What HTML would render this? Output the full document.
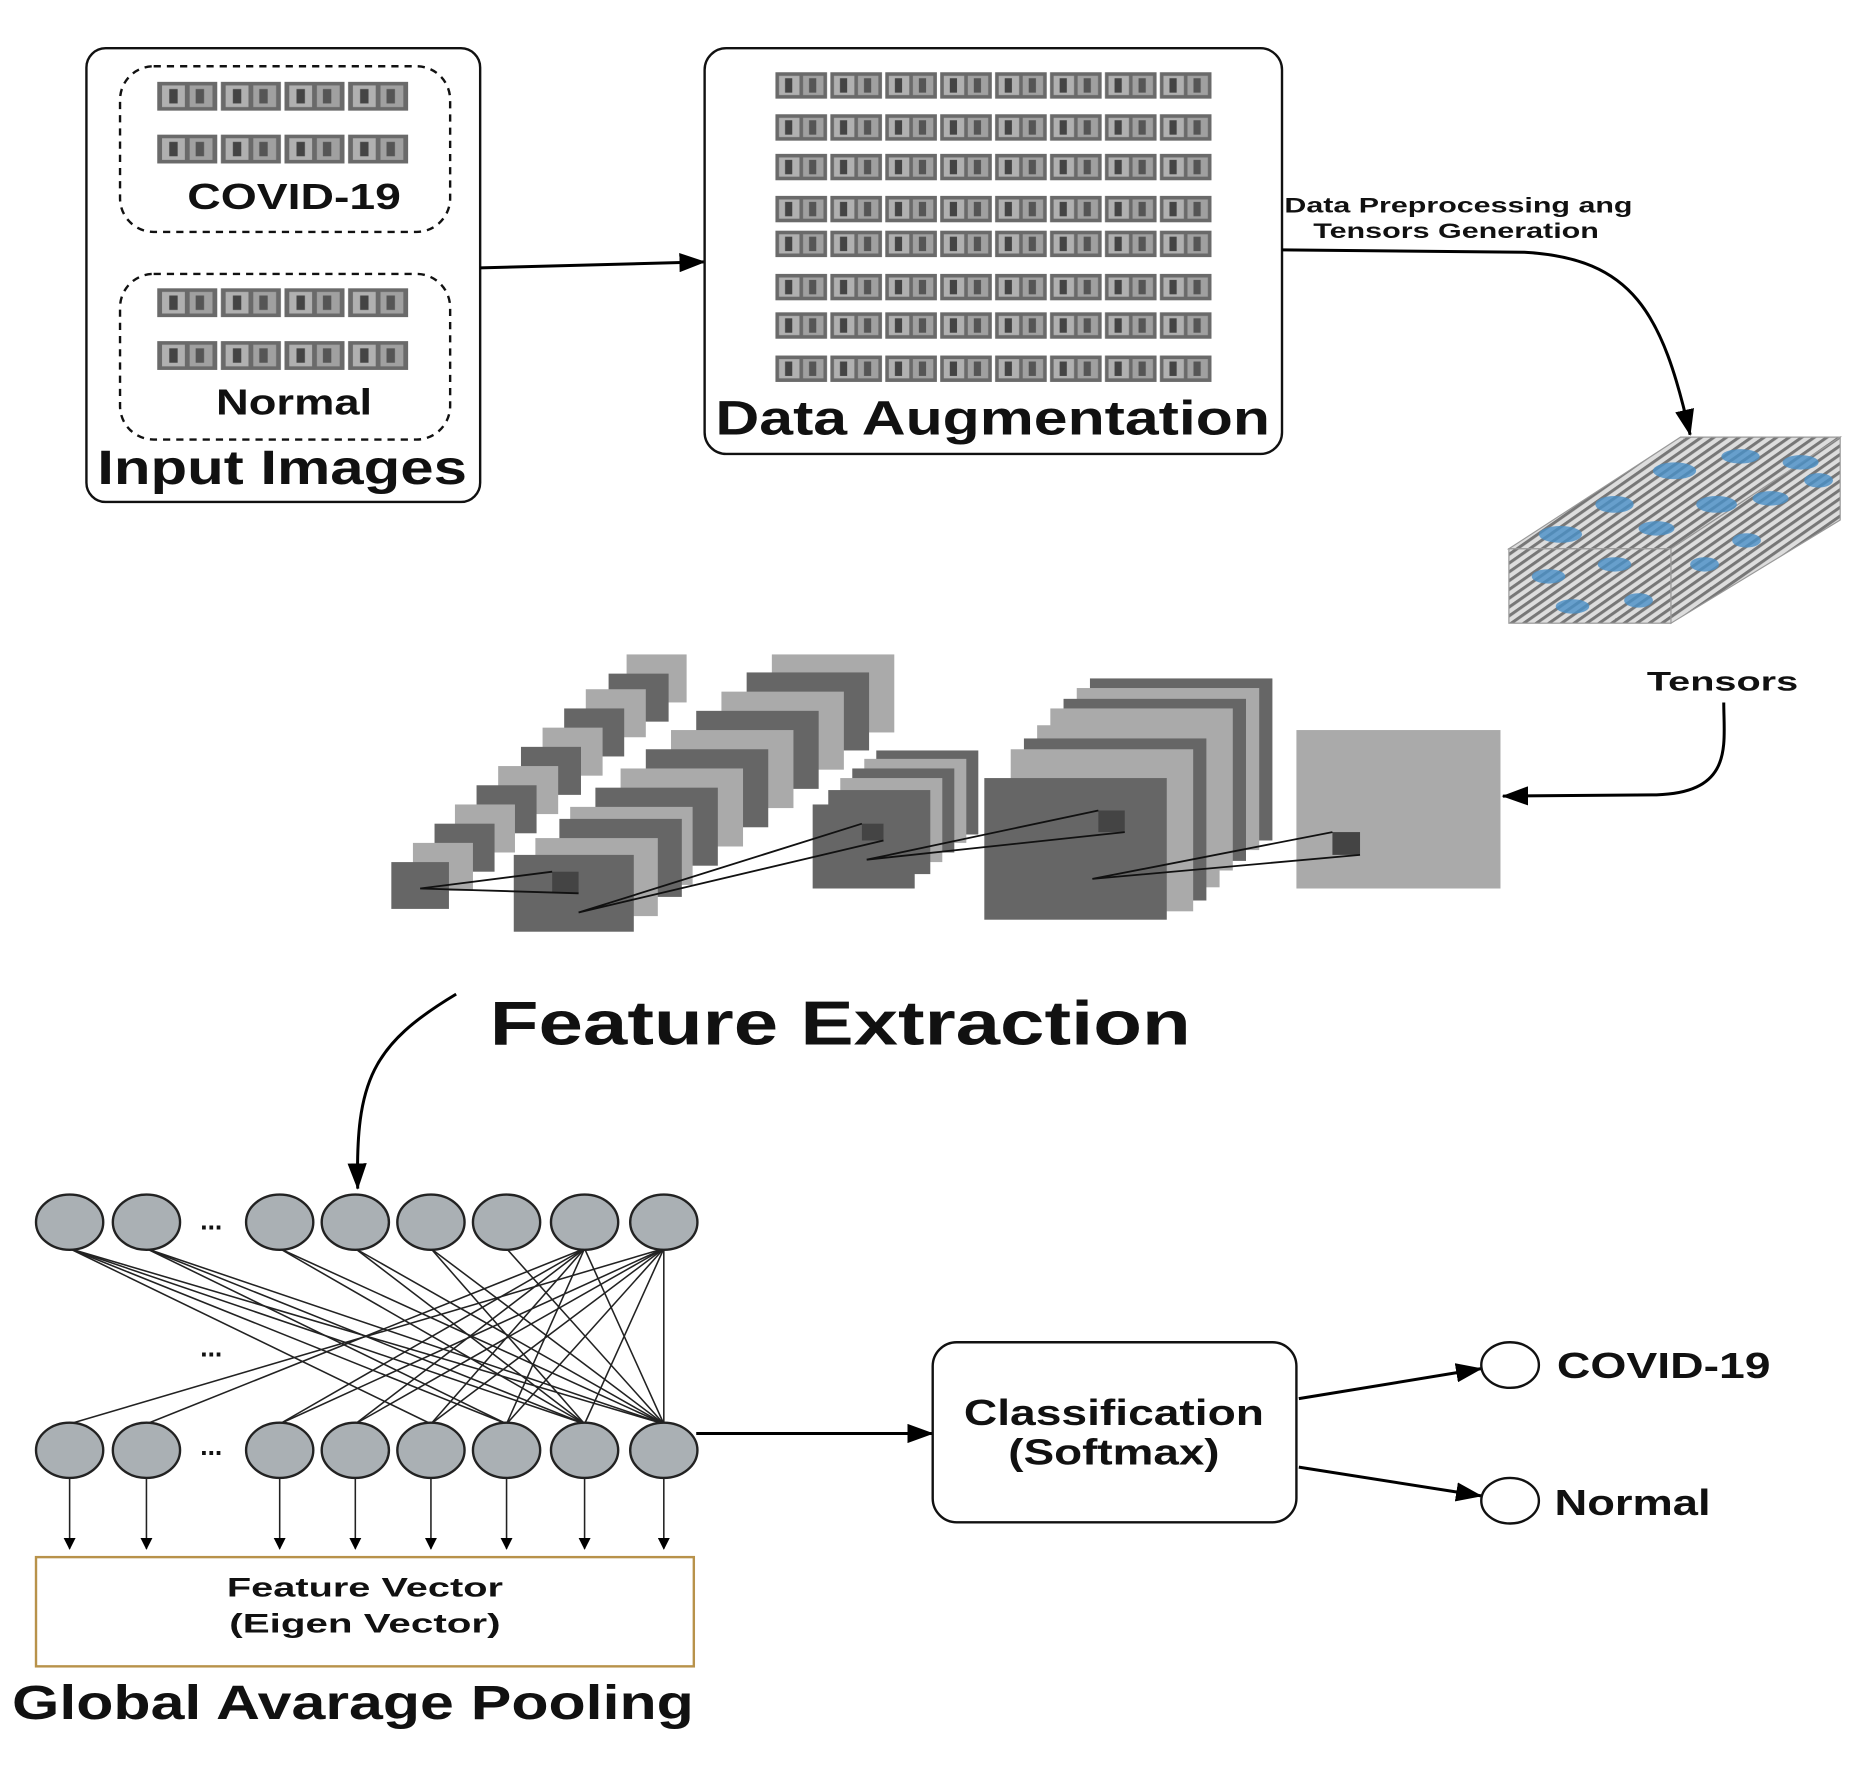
<!DOCTYPE html>
<html><head><meta charset="utf-8"><style>
html,body{margin:0;padding:0;background:#fff}
svg{display:block}
text{font-family:"Liberation Sans",sans-serif;font-weight:bold;fill:#111}
</style></head><body>
<svg width="1875" height="1765" viewBox="0 0 1562 1470" xmlns="http://www.w3.org/2000/svg">
<defs>
<pattern id="thumb" x="0" y="0" width="53" height="24" patternUnits="userSpaceOnUse">
<rect x="1" y="0" width="50" height="24" fill="#6a6a6a"/>
<rect x="5" y="3" width="19" height="18" fill="#b0b0b0"/>
<rect x="28" y="3" width="19" height="18" fill="#a0a0a0"/>
<rect x="11" y="6" width="7" height="12" fill="#444"/>
<rect x="33" y="6" width="7" height="12" fill="#555"/>
</pattern>
<pattern id="thumb2" x="0" y="0" width="45.75" height="22" patternUnits="userSpaceOnUse">
<rect x="1" y="0" width="43" height="22" fill="#6a6a6a"/>
<rect x="4" y="3" width="17" height="16" fill="#b0b0b0"/>
<rect x="24" y="3" width="17" height="16" fill="#a0a0a0"/>
<rect x="9" y="5" width="6" height="12" fill="#444"/>
<rect x="29" y="5" width="6" height="12" fill="#555"/>
</pattern>
<pattern id="stripe" width="6" height="6" patternUnits="userSpaceOnUse" patternTransform="rotate(-35)">
<rect width="6" height="6" fill="#ddd"/><rect width="6" height="2.5" fill="#777"/>
</pattern>
<marker id="ah" markerWidth="10" markerHeight="10" refX="9" refY="5" orient="auto" markerUnits="userSpaceOnUse">
<path d="M0,0 L10,5 L0,10 z" fill="#000"/></marker>
<marker id="ahb" markerWidth="22" markerHeight="16" refX="21" refY="8" orient="auto" markerUnits="userSpaceOnUse">
<path d="M0,0 L22,8 L0,16 z" fill="#000"/></marker>
</defs>

<!-- Input Images -->
<rect x="72" y="40" width="328" height="378" rx="16" fill="#fff" stroke="#111" stroke-width="2"/>
<rect x="100" y="55" width="275" height="138" rx="28" fill="none" stroke="#111" stroke-width="2" stroke-dasharray="6,5"/>
<rect x="100" y="228" width="275" height="138" rx="28" fill="none" stroke="#111" stroke-width="2" stroke-dasharray="6,5"/>
<rect transform="translate(130,68)" width="212" height="24" fill="url(#thumb)"/>
<rect transform="translate(130,112)" width="212" height="24" fill="url(#thumb)"/>
<rect transform="translate(130,240)" width="212" height="24" fill="url(#thumb)"/>
<rect transform="translate(130,284)" width="212" height="24" fill="url(#thumb)"/>
<text x="245" y="174" font-size="30" text-anchor="middle" textLength="178" lengthAdjust="spacingAndGlyphs">COVID-19</text>
<text x="245" y="345" font-size="30" text-anchor="middle" textLength="130" lengthAdjust="spacingAndGlyphs">Normal</text>
<text x="235" y="403" font-size="40" text-anchor="middle" textLength="308" lengthAdjust="spacingAndGlyphs">Input Images</text>

<line x1="400" y1="223" x2="587" y2="218" stroke="#000" stroke-width="2.5" marker-end="url(#ahb)"/>

<!-- Data Augmentation -->
<rect x="587" y="40" width="481" height="338" rx="18" fill="#fff" stroke="#111" stroke-width="2"/>
<g>
<rect transform="translate(645,60)" width="366" height="22" fill="url(#thumb2)"/>
<rect transform="translate(645,95)" width="366" height="22" fill="url(#thumb2)"/>
<rect transform="translate(645,128)" width="366" height="22" fill="url(#thumb2)"/>
<rect transform="translate(645,163)" width="366" height="22" fill="url(#thumb2)"/>
<rect transform="translate(645,192)" width="366" height="22" fill="url(#thumb2)"/>
<rect transform="translate(645,228)" width="366" height="22" fill="url(#thumb2)"/>
<rect transform="translate(645,260)" width="366" height="22" fill="url(#thumb2)"/>
<rect transform="translate(645,296)" width="366" height="22" fill="url(#thumb2)"/>
</g>
<text x="827" y="362" font-size="40" text-anchor="middle" textLength="462" lengthAdjust="spacingAndGlyphs">Data Augmentation</text>

<text x="1070" y="177" font-size="18" textLength="290" lengthAdjust="spacingAndGlyphs">Data Preprocessing ang</text>
<text x="1213" y="198" font-size="18" text-anchor="middle" textLength="238" lengthAdjust="spacingAndGlyphs">Tensors Generation</text>
<path d="M1068,208 L1270,210 C1360,215 1385,260 1408,362" fill="none" stroke="#000" stroke-width="2.5" marker-end="url(#ahb)"/>

<!-- Tensor cuboid -->
<polygon points="1257,457 1400,364 1533,364 1392,457" fill="url(#stripe)" stroke="#999"/>
<polygon points="1392,457 1533,364 1533,433 1392,519" fill="url(#stripe)" stroke="#999"/>
<rect x="1257" y="457" width="135" height="62" fill="url(#stripe)" stroke="#999"/>
<g fill="#4a90c8" opacity="0.8">
<ellipse cx="1300" cy="445" rx="18" ry="7"/><ellipse cx="1345" cy="420" rx="16" ry="7"/><ellipse cx="1395" cy="392" rx="18" ry="7"/>
<ellipse cx="1450" cy="380" rx="16" ry="6"/><ellipse cx="1500" cy="385" rx="15" ry="6"/><ellipse cx="1430" cy="420" rx="17" ry="7"/>
<ellipse cx="1475" cy="415" rx="15" ry="6"/><ellipse cx="1515" cy="400" rx="12" ry="6"/><ellipse cx="1380" cy="440" rx="15" ry="6"/>
<ellipse cx="1290" cy="480" rx="14" ry="6"/><ellipse cx="1345" cy="470" rx="14" ry="6"/><ellipse cx="1310" cy="505" rx="14" ry="6"/>
<ellipse cx="1365" cy="500" rx="12" ry="6"/><ellipse cx="1420" cy="470" rx="12" ry="6"/><ellipse cx="1455" cy="450" rx="12" ry="6"/>
</g>
<text x="1435" y="575" font-size="22" text-anchor="middle" textLength="126" lengthAdjust="spacingAndGlyphs">Tensors</text>
<path d="M1436,585 C1436,620 1445,660 1380,662 L1252,663" fill="none" stroke="#000" stroke-width="2.5" marker-end="url(#ahb)"/>

<!-- CNN -->
<rect x="1080" y="608" width="170" height="132" fill="#aaa"/>
<rect x="1110" y="693" width="23" height="19" fill="#444"/>
<g>
<rect x="908" y="565" width="152" height="135" fill="#666"/>
<rect x="897" y="573" width="152" height="135" fill="#aaa"/>
<rect x="886" y="582" width="152" height="135" fill="#666"/>
<rect x="875" y="590" width="152" height="135" fill="#aaa"/>
<rect x="864" y="604" width="152" height="135" fill="#aaa"/>
<rect x="853" y="615" width="152" height="135" fill="#666"/>
<rect x="842" y="624" width="152" height="135" fill="#aaa"/>
<rect x="820" y="648" width="152" height="118" fill="#666"/>
<rect x="915" y="675" width="22" height="18" fill="#444"/>
</g>
<g>
<rect x="730" y="625" width="85" height="70" fill="#666"/>
<rect x="720" y="632" width="85" height="70" fill="#aaa"/>
<rect x="710" y="640" width="85" height="70" fill="#666"/>
<rect x="700" y="648" width="85" height="70" fill="#aaa"/>
<rect x="690" y="658" width="85" height="70" fill="#666"/>
<rect x="677" y="670" width="85" height="70" fill="#666"/>
<rect x="718" y="686" width="18" height="14" fill="#444"/>
</g>
<g>
<rect x="643" y="545" width="102" height="65" fill="#aaa"/>
<rect x="622" y="560" width="102" height="65" fill="#666"/>
<rect x="601" y="576" width="102" height="65" fill="#aaa"/>
<rect x="580" y="592" width="102" height="65" fill="#666"/>
<rect x="559" y="608" width="102" height="65" fill="#aaa"/>
<rect x="538" y="624" width="102" height="65" fill="#666"/>
<rect x="517" y="640" width="102" height="65" fill="#aaa"/>
<rect x="496" y="656" width="102" height="65" fill="#666"/>
<rect x="475" y="672" width="102" height="65" fill="#aaa"/>
<rect x="466" y="682" width="102" height="65" fill="#666"/>
<rect x="446" y="698" width="102" height="65" fill="#aaa"/>
<rect x="428" y="712" width="100" height="64" fill="#666"/>
<rect x="460" y="726" width="22" height="18" fill="#444"/>
</g>
<g>
<rect x="522" y="545" width="50" height="40" fill="#aaa"/>
<rect x="507" y="561" width="50" height="40" fill="#666"/>
<rect x="488" y="574" width="50" height="40" fill="#aaa"/>
<rect x="470" y="590" width="50" height="40" fill="#666"/>
<rect x="452" y="606" width="50" height="40" fill="#aaa"/>
<rect x="434" y="622" width="50" height="40" fill="#666"/>
<rect x="415" y="638" width="50" height="40" fill="#aaa"/>
<rect x="397" y="654" width="50" height="40" fill="#666"/>
<rect x="379" y="670" width="50" height="40" fill="#aaa"/>
<rect x="362" y="686" width="50" height="40" fill="#666"/>
<rect x="344" y="702" width="50" height="40" fill="#aaa"/>
<rect x="326" y="718" width="48" height="39" fill="#666"/>
</g>
<g stroke="#111" stroke-width="1.5" fill="none">
<path d="M350,740 L460,726 M350,740 L482,744"/>
<path d="M482,760 L718,686 M482,760 L736,700"/>
<path d="M722,716 L915,675 M722,716 L937,693"/>
<path d="M910,732 L1110,693 M910,732 L1133,712"/>
</g>
<text x="700" y="870" font-size="52" text-anchor="middle" textLength="584" lengthAdjust="spacingAndGlyphs">Feature Extraction</text>
<path d="M380,828 C310,870 296,900 298,990" fill="none" stroke="#000" stroke-width="2.5" marker-end="url(#ahb)"/>

<g stroke="#222" stroke-width="1.3">
<line x1="58" y1="1040" x2="359" y2="1186"/><line x1="58" y1="1040" x2="422" y2="1186"/><line x1="58" y1="1040" x2="487" y2="1186"/><line x1="58" y1="1040" x2="553" y2="1186"/>
<line x1="122" y1="1040" x2="422" y2="1186"/><line x1="122" y1="1040" x2="487" y2="1186"/><line x1="122" y1="1040" x2="553" y2="1186"/>
<line x1="233" y1="1040" x2="487" y2="1186"/><line x1="233" y1="1040" x2="553" y2="1186"/>
<line x1="296" y1="1040" x2="487" y2="1186"/><line x1="296" y1="1040" x2="553" y2="1186"/>
<line x1="359" y1="1040" x2="553" y2="1186"/><line x1="359" y1="1040" x2="487" y2="1186"/>
<line x1="422" y1="1040" x2="553" y2="1186"/>
<line x1="487" y1="1040" x2="122" y2="1186"/><line x1="487" y1="1040" x2="233" y2="1186"/><line x1="487" y1="1040" x2="296" y2="1186"/><line x1="487" y1="1040" x2="359" y2="1186"/><line x1="487" y1="1040" x2="422" y2="1186"/><line x1="487" y1="1040" x2="553" y2="1186"/>
<line x1="553" y1="1040" x2="58" y2="1186"/><line x1="553" y1="1040" x2="233" y2="1186"/><line x1="553" y1="1040" x2="296" y2="1186"/><line x1="553" y1="1040" x2="359" y2="1186"/><line x1="553" y1="1040" x2="422" y2="1186"/><line x1="553" y1="1040" x2="487" y2="1186"/><line x1="553" y1="1040" x2="553" y2="1186"/>
</g>
<g fill="#aab0b4" stroke="#222" stroke-width="2">
<ellipse cx="58" cy="1018" rx="28" ry="23"/><ellipse cx="122" cy="1018" rx="28" ry="23"/><ellipse cx="233" cy="1018" rx="28" ry="23"/><ellipse cx="296" cy="1018" rx="28" ry="23"/>
<ellipse cx="359" cy="1018" rx="28" ry="23"/><ellipse cx="422" cy="1018" rx="28" ry="23"/><ellipse cx="487" cy="1018" rx="28" ry="23"/><ellipse cx="553" cy="1018" rx="28" ry="23"/>
<ellipse cx="58" cy="1208" rx="28" ry="23"/><ellipse cx="122" cy="1208" rx="28" ry="23"/><ellipse cx="233" cy="1208" rx="28" ry="23"/><ellipse cx="296" cy="1208" rx="28" ry="23"/>
<ellipse cx="359" cy="1208" rx="28" ry="23"/><ellipse cx="422" cy="1208" rx="28" ry="23"/><ellipse cx="487" cy="1208" rx="28" ry="23"/><ellipse cx="553" cy="1208" rx="28" ry="23"/>
</g>
<text x="176" y="1024" font-size="22" text-anchor="middle">...</text>
<text x="176" y="1212" font-size="22" text-anchor="middle">...</text>
<text x="176" y="1130" font-size="22" text-anchor="middle">...</text>
<g stroke="#222" stroke-width="1.3">
<line x1="58" y1="1231" x2="58" y2="1290" marker-end="url(#ah)"/><line x1="122" y1="1231" x2="122" y2="1290" marker-end="url(#ah)"/>
<line x1="233" y1="1231" x2="233" y2="1290" marker-end="url(#ah)"/><line x1="296" y1="1231" x2="296" y2="1290" marker-end="url(#ah)"/>
<line x1="359" y1="1231" x2="359" y2="1290" marker-end="url(#ah)"/><line x1="422" y1="1231" x2="422" y2="1290" marker-end="url(#ah)"/>
<line x1="487" y1="1231" x2="487" y2="1290" marker-end="url(#ah)"/><line x1="553" y1="1231" x2="553" y2="1290" marker-end="url(#ah)"/>
</g>
<rect x="30" y="1297" width="548" height="91" fill="#fff" stroke="#b8924a" stroke-width="2"/>
<text x="304" y="1330" font-size="22" text-anchor="middle" textLength="230" lengthAdjust="spacingAndGlyphs">Feature Vector</text>
<text x="304" y="1360" font-size="22" text-anchor="middle" textLength="226" lengthAdjust="spacingAndGlyphs">(Eigen Vector)</text>
<text x="294" y="1432" font-size="40" text-anchor="middle" textLength="568" lengthAdjust="spacingAndGlyphs">Global Avarage Pooling</text>

<line x1="580" y1="1194" x2="777" y2="1194" stroke="#000" stroke-width="2.5" marker-end="url(#ahb)"/>
<rect x="777" y="1118" width="303" height="150" rx="20" fill="#fff" stroke="#111" stroke-width="2"/>
<text x="928" y="1187" font-size="30" text-anchor="middle" textLength="250" lengthAdjust="spacingAndGlyphs">Classification</text>
<text x="928" y="1220" font-size="30" text-anchor="middle" textLength="176" lengthAdjust="spacingAndGlyphs">(Softmax)</text>
<line x1="1082" y1="1165" x2="1234" y2="1140" stroke="#000" stroke-width="2.5" marker-end="url(#ahb)"/>
<line x1="1082" y1="1222" x2="1234" y2="1246" stroke="#000" stroke-width="2.5" marker-end="url(#ahb)"/>
<ellipse cx="1258" cy="1137" rx="24" ry="19" fill="#fff" stroke="#111" stroke-width="2"/>
<ellipse cx="1258" cy="1250" rx="24" ry="19" fill="#fff" stroke="#111" stroke-width="2"/>
<text x="1297" y="1148" font-size="30" textLength="178" lengthAdjust="spacingAndGlyphs">COVID-19</text>
<text x="1295" y="1262" font-size="30" textLength="130" lengthAdjust="spacingAndGlyphs">Normal</text>
</svg>
</body></html>
